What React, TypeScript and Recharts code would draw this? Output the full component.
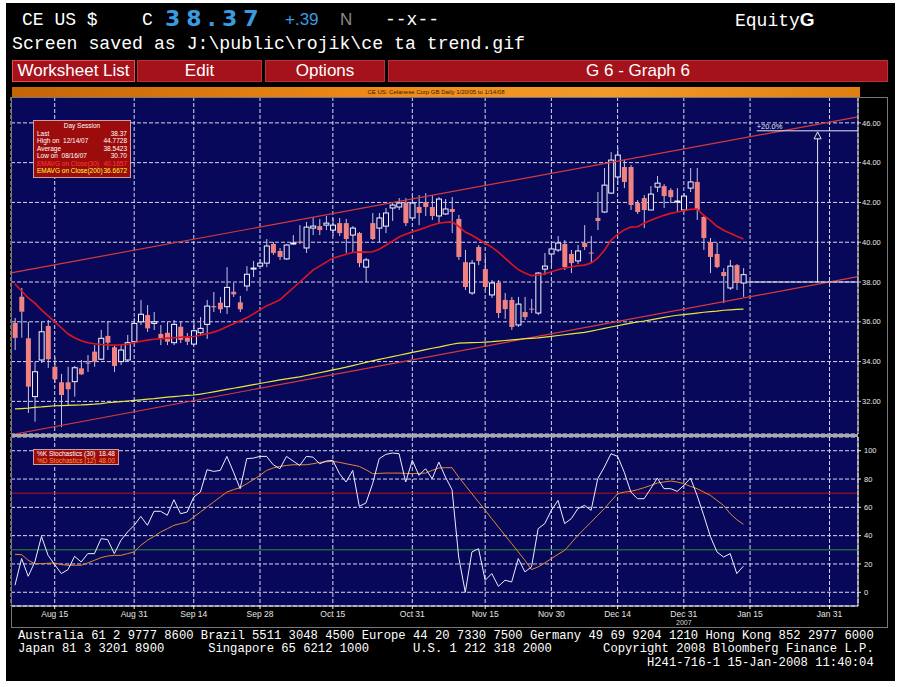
import React from "react";
import {
  Bar,
  CartesianGrid,
  ComposedChart,
  Line,
  ReferenceDot,
  ReferenceLine,
  XAxis,
  YAxis,
} from "recharts";

// 日足 OHLC (Aug 7 2007 .. Jan 14 2008)
const OPEN = [
  35.94, 37.26, 35.17, 32.24, 34.08, 35.79, 33.74, 32.96, 32.96, 32.99, 33.66, 33.95, 34.5, 34.12, 35.29, 34.72,
  34.0, 34.08, 35.0, 36.0, 36.34, 35.92, 35.39, 35.45, 34.95, 35.75, 35.2, 34.88, 35.45, 35.87, 36.79, 36.96,
  36.76, 37.51, 36.98, 37.8, 38.65, 38.8, 38.95, 39.91, 39.56, 39.16, 39.91, 40.03, 39.71, 40.71, 40.81, 40.86,
  40.61, 40.96, 40.96, 40.36, 40.46, 38.75, 40.96, 40.71, 40.81, 41.72, 41.77, 41.97, 41.22, 41.77, 42.02, 41.77,
  41.32, 41.42, 41.67, 41.17, 39.0, 37.45, 39.76, 38.65, 37.35, 37.95, 37.1, 37.1, 35.84, 36.49, 36.66, 36.44,
  38.65, 39.41, 39.61, 39.91, 39.41, 39.06, 39.96, 39.48, 41.22, 41.52, 42.47, 43.28, 43.78, 43.78, 41.97, 42.22,
  41.62, 42.77, 42.82, 42.62, 42.02, 41.62, 42.72, 43.03, 41.27, 40.01, 39.41, 38.5, 37.7, 38.85, 37.95,
];
const HIGH = [
  36.19, 37.7, 35.99, 33.99, 36.0, 36.09, 34.23, 33.38, 33.74, 33.78, 34.08, 34.33, 34.83, 35.59, 36.04, 34.83,
  34.83, 35.34, 36.19, 37.1, 36.84, 36.49, 35.84, 35.99, 36.09, 35.99, 35.44, 35.94, 36.24, 37.1, 37.5, 37.25,
  38.75, 37.95, 37.3, 38.8, 39.06, 39.16, 40.16, 40.01, 39.71, 39.91, 40.36, 40.86, 41.02, 41.27, 41.17, 41.32,
  41.22, 41.22, 41.17, 40.81, 40.51, 39.21, 41.47, 41.47, 41.72, 41.97, 42.22, 42.22, 42.32, 42.37, 42.47, 42.37,
  42.27, 42.17, 42.27, 41.37, 39.61, 39.11, 39.86, 39.26, 38.1, 38.1, 37.45, 37.25, 37.25, 37.25, 37.15, 38.5,
  39.46, 39.86, 40.31, 40.11, 39.61, 39.86, 40.86, 40.31, 42.52, 43.73, 44.53, 44.77, 44.13, 43.88, 42.12, 42.37,
  42.82, 43.33, 42.92, 42.72, 42.72, 42.47, 43.73, 43.73, 41.37, 40.21, 39.96, 38.7, 39.11, 38.9, 38.7,
];
const LOW = [
  34.58, 35.2, 31.42, 30.98, 33.93, 33.68, 32.93, 30.7, 31.78, 32.24, 33.33, 33.48, 33.74, 34.08, 34.58, 33.48,
  33.83, 33.98, 34.88, 35.84, 35.49, 35.59, 34.83, 34.83, 34.83, 34.93, 34.83, 34.83, 35.34, 35.14, 36.49, 36.44,
  36.39, 37.25, 36.49, 37.55, 38.25, 38.75, 38.75, 39.36, 39.11, 39.11, 39.86, 39.91, 39.46, 40.36, 40.36, 40.61,
  40.31, 40.31, 39.46, 39.51, 38.75, 38.0, 40.11, 40.01, 40.46, 41.07, 41.62, 40.81, 41.12, 40.86, 41.32, 41.12,
  40.96, 41.37, 40.46, 39.11, 37.6, 37.35, 38.85, 37.6, 37.2, 36.19, 36.14, 35.59, 35.74, 36.09, 36.44, 36.34,
  38.35, 38.85, 39.51, 38.6, 38.45, 38.9, 39.61, 38.95, 40.61, 41.47, 42.42, 42.87, 42.72, 41.62, 41.42, 40.71,
  41.62, 42.52, 41.72, 41.97, 41.52, 41.52, 42.52, 41.12, 39.61, 38.45, 38.7, 36.94, 37.6, 37.6, 37.25,
];
const CLOSE = [
  35.19, 36.51, 32.74, 33.49, 35.5, 34.12, 33.11, 32.32, 32.61, 33.69, 33.36, 33.9, 34.0, 35.17, 34.95, 33.78,
  34.58, 34.95, 35.92, 36.38, 35.67, 36.0, 35.17, 35.0, 35.87, 35.09, 35.0, 35.55, 35.67, 36.79, 36.73, 36.63,
  37.73, 37.38, 36.63, 38.39, 38.7, 38.95, 39.81, 39.46, 39.26, 39.86, 39.96, 40.0, 40.76, 40.81, 40.61, 40.96,
  40.86, 40.46, 40.16, 40.71, 38.95, 39.11, 40.16, 41.22, 41.47, 41.87, 41.97, 40.96, 41.97, 41.47, 41.77, 41.32,
  42.17, 41.67, 41.52, 39.26, 37.75, 38.95, 39.06, 37.75, 37.95, 36.44, 36.64, 35.74, 36.89, 36.24, 36.64, 38.45,
  38.8, 39.66, 39.96, 38.75, 38.95, 39.56, 39.76, 39.43, 41.07, 42.87, 44.13, 44.38, 43.03, 41.87, 41.52, 41.62,
  42.42, 42.97, 42.32, 42.27, 42.07, 42.32, 43.03, 41.62, 40.21, 39.26, 38.75, 38.3, 38.8, 37.95, 38.37,
];

// EMAVG on Close(30) と (200)
const EMA30 = [
  37.9, 37.55, 37.2, 36.94, 36.6, 36.3, 36.0, 35.7, 35.4, 35.2, 35.05, 34.95, 34.9, 34.86, 34.84, 34.83, 34.84,
  34.87, 34.95, 35.02, 35.08, 35.12, 35.15, 35.18, 35.2, 35.22, 35.24, 35.26, 35.32, 35.4, 35.48, 35.6, 35.75,
  35.9, 36.05, 36.2, 36.4, 36.6, 36.8, 36.95, 37.1, 37.4, 37.7, 38.0, 38.3, 38.6, 38.8, 39.0, 39.2, 39.3, 39.4,
  39.48, 39.51, 39.5, 39.52, 39.65, 39.85, 40.05, 40.26, 40.4, 40.52, 40.62, 40.74, 40.86, 40.95, 41.0, 41.02,
  40.8, 40.51, 40.35, 40.15, 39.95, 39.75, 39.5, 39.2, 38.9, 38.62, 38.45, 38.32, 38.35, 38.42, 38.52, 38.62,
  38.7, 38.76, 38.82, 38.85, 38.95, 39.2, 39.6, 40.1, 40.4, 40.62, 40.76, 40.78, 40.95, 41.1, 41.23, 41.35,
  41.45, 41.52, 41.58, 41.65, 41.67, 41.35, 41.1, 40.8, 40.6, 40.45, 40.3, 40.16,
];
const EMA200 = [
  31.62, 31.64, 31.66, 31.7, 31.72, 31.75, 31.78, 31.79, 31.8, 31.81, 31.82, 31.84, 31.86, 31.89, 31.93, 31.96,
  31.99, 32.02, 32.05, 32.08, 32.11, 32.14, 32.18, 32.21, 32.24, 32.27, 32.3, 32.32, 32.36, 32.42, 32.48, 32.54,
  32.6, 32.66, 32.72, 32.78, 32.84, 32.9, 32.96, 33.02, 33.08, 33.13, 33.18, 33.23, 33.3, 33.37, 33.44, 33.51,
  33.58, 33.65, 33.72, 33.8, 33.88, 33.96, 34.04, 34.11, 34.18, 34.25, 34.32, 34.39, 34.46, 34.53, 34.6, 34.67,
  34.73, 34.8, 34.87, 34.93, 34.94, 34.95, 34.96, 34.98, 35.0, 35.03, 35.06, 35.09, 35.12, 35.15, 35.17, 35.19,
  35.23, 35.27, 35.31, 35.35, 35.39, 35.43, 35.47, 35.53, 35.6, 35.67, 35.74, 35.8, 35.87, 35.93, 35.99, 36.04,
  36.1, 36.16, 36.22, 36.28, 36.33, 36.36, 36.4, 36.44, 36.48, 36.51, 36.54, 36.58, 36.6, 36.62, 36.64,
];

// %K Stochastics (30), %D Stochastics (12)
const STOCH_K = [
  5, 23.8, 11.3, 21.4, 39.5, 26.1, 19.5, 13.2, 16, 25.4, 21.4, 27.3, 27.3, 37.9, 37.2, 27.3, 36.7, 42.6, 47.3,
  53.6, 47.3, 57.2, 57.2, 54.4, 65.4, 55.5, 56.7, 67.3, 70.8, 86.6, 85.4, 86.1, 96, 84.9, 73.2, 94.4, 94.8, 96,
  96, 90.1, 87.3, 96, 92.7, 89.6, 96, 95.5, 90.8, 92.7, 93.2, 83.8, 77.9, 86.1, 60.7, 63.1, 76.7, 94.4, 97.4,
  98.4, 97.9, 77.9, 93.2, 82.6, 87.3, 80.2, 92, 81.4, 72.5, 24.9, 0, 28.5, 30.8, 8.5, 13.2, 4.2, 8.5, 7.3, 23.8,
  14.4, 17.9, 44.9, 48.5, 57.9, 64.9, 48.5, 52, 59.1, 61.4, 57.9, 80.2, 88.5, 97.9, 96, 84.9, 70.8, 66.1, 66.1,
  73.2, 80.7, 73.2, 73.2, 71.3, 75.5, 80.7, 68.5, 54.4, 39.5, 28.5, 24.9, 27.3, 13.2, 18.48,
];
const STOCH_D = [
  26.8, 26.6, 22.6, 20.2, 20.2, 20.5, 20.7, 19.5, 19.1, 19.1, 19.1, 20.7, 22.6, 24.5, 25.6, 26.1, 26.1, 27.3,
  28.5, 33.2, 36.7, 39.5, 42.6, 44.9, 47.3, 48.5, 49.6, 53.2, 56.7, 60.2, 63.8, 67.3, 70.8, 72.5, 73.9, 76.7,
  79.5, 82.6, 86.1, 87.8, 88.9, 89.6, 90.1, 90.1, 90.1, 90.8, 91.8, 92.2, 92.5, 91.8, 90.8, 89.9, 88.9, 86.6,
  83.8, 84, 84.2, 84.2, 84.2, 84, 83.8, 84, 84.2, 86.1, 87.8, 88, 88, 81.4, 75.5, 69.6, 63.8, 57.9, 52, 46.1,
  40.2, 34.4, 28.5, 22.6, 16, 17.9, 20.7, 23.8, 26.8, 29.6, 34.8, 40.2, 44.9, 49.6, 54.4, 59.1, 64.5, 69.6,
  70.8, 71.3, 72.5, 73.9, 75.5, 77.2, 77.9, 78.6, 77.9, 76.7, 74.8, 73.2, 70.8, 68.5, 64.9, 61.4, 55.5, 51.3, 48,
];

const FUTURE_DAYS = 17; // Jan 15 .. Feb 6 (空白)
const TICK_IDX = [6, 18, 27, 37, 48, 60, 71, 81, 91, 101, 111, 123];
const TICK_LABELS = ["Aug 15", "Aug 31", "Sep 14", "Sep 28", "Oct 15", "Oct 31", "Nov 15", "Nov 30", "Dec 14", "Dec 31", "Jan 15", "Jan 31"];
const PRICE_TICKS = [32, 34, 36, 38, 40, 42, 44, 46];
const STOCH_TICKS = [0, 20, 40, 60, 80, 100];

// トレンドライン (チャネル) と +20% ターゲット
const UPPER_CHANNEL = [{ i: -0.6, p: 38.46 }, { i: 127.3, p: 46.3 }];
const LOWER_CHANNEL = [{ i: 0, p: 30.36 }, { i: 127.3, p: 38.27 }];
const TARGET = { base: 38.0, top: 45.6, at: 121.2, from: 110.5, labelAt: 112 };

const SESSION_ROWS = [
  { k: "Last", v: "38.37", c: "#ffffff" },
  { k: "High on  12/14/07", v: "44.7728", c: "#ffffff" },
  { k: "Average", v: "38.5423", c: "#ffffff" },
  { k: "Low on  08/16/07", v: "30.70", c: "#ffffff" },
  { k: "EMAVG on Close(30)", v: "40.1657", c: "#ff3a3a" },
  { k: "EMAVG on Close(200)", v: "36.6672", c: "#ffff3c" },
];

const NAVY = "#08085a";
const PINK = "#f08282";
const GRID = "#d8d8ee";
const X_DOMAIN: [number, number] = [-0.6, 127.3];

const rows = Array.from({ length: OPEN.length + FUTURE_DAYS }, (_, i) =>
  i < OPEN.length
    ? {
        i,
        range: [LOW[i], HIGH[i]],
        o: OPEN[i],
        h: HIGH[i],
        l: LOW[i],
        c: CLOSE[i],
        ema30: EMA30[i],
        ema200: EMA200[i],
        k: STOCH_K[i],
        d: STOCH_D[i],
      }
    : { i, range: null, o: null, h: null, l: null, c: null, ema30: null, ema200: null, k: null, d: null }
);

function Candle(props: any) {
  const { x, y, width, height, payload } = props;
  if (!payload || payload.o == null) return null;
  const top = Math.min(y, y + height);
  const h = Math.abs(height);
  const k = h / (payload.h - payload.l || 1);
  const yo = top + (payload.h - payload.o) * k;
  const yc = top + (payload.h - payload.c) * k;
  const cx = x + width / 2;
  const up = payload.c >= payload.o;
  const bt = Math.min(yo, yc);
  const bh = Math.max(Math.abs(yo - yc), 1);
  return (
    <g>
      <line x1={cx} x2={cx} y1={top} y2={top + h} stroke="#c4c4e6" strokeWidth={1} />
      <rect x={x} y={bt} width={width} height={bh} fill={up ? NAVY : PINK} stroke={up ? "#f4f4ff" : "none"} strokeWidth={1} />
    </g>
  );
}

function DateTick(props: any) {
  const { x, y, payload } = props;
  const idx = TICK_IDX.indexOf(payload.value);
  return (
    <g>
      <text x={x} y={y + 6} textAnchor="middle" fontSize={8.5} fill="#e4e4e4" fontFamily="Liberation Sans">
        {TICK_LABELS[idx]}
      </text>
      {payload.value === 101 && (
        <text x={x} y={y + 14} textAnchor="middle" fontSize={7} fill="#d8d8d8" fontFamily="Liberation Sans">
          2007
        </text>
      )}
    </g>
  );
}

const axisTick = { fontSize: 7.5, fill: "#e8e8e8", fontFamily: "Liberation Sans" };

const mono = "'Liberation Mono', 'DejaVu Sans Mono', monospace";

function MenuBox({ left, width, label, border }: { left: number; width: number; label: string; border?: boolean }) {
  return (
    <div
      style={{
        position: "absolute",
        left,
        top: 60,
        width,
        height: 22,
        boxSizing: "border-box",
        background: "#a5121c",
        border: border ? "1px solid #ee4a4a" : "1px solid #b8323a",
        color: "#ffffff",
        fontFamily: "'Liberation Sans', Arial, sans-serif",
        fontSize: 17,
        lineHeight: "20px",
        textAlign: "center",
        whiteSpace: "nowrap",
      }}
    >
      {label}
    </div>
  );
}

export default function App() {
  return (
    <div style={{ position: "fixed", left: 0, top: 0, width: 901, height: 687, background: "#ffffff", overflow: "hidden" }}>
      <div style={{ position: "absolute", left: 6, top: 3, width: 889, height: 678, background: "#000000" }} />

      {/* ヘッダー */}
      <div style={{ position: "absolute", left: 22, top: 10, fontFamily: mono, fontSize: 18, color: "#fff", lineHeight: "20px", whiteSpace: "pre" }}>
        CE US $
      </div>
      <div style={{ position: "absolute", left: 142, top: 10, fontFamily: mono, fontSize: 18, color: "#fff", lineHeight: "20px" }}>C</div>
      <div
        style={{
          position: "absolute",
          left: 165,
          top: 7,
          fontFamily: "'DejaVu Sans', sans-serif",
          fontWeight: "bold",
          fontSize: 22,
          letterSpacing: 6,
          color: "#3b9be0",
          lineHeight: "24px",
        }}
      >
        38.37
      </div>
      <div style={{ position: "absolute", left: 285, top: 10, fontFamily: "'Liberation Sans', sans-serif", fontSize: 17, color: "#3b9be0", lineHeight: "20px" }}>
        +.39
      </div>
      <div style={{ position: "absolute", left: 340, top: 10, fontFamily: "'Liberation Sans', sans-serif", fontSize: 17, color: "#8a8a8a", lineHeight: "20px" }}>
        N
      </div>
      <div style={{ position: "absolute", left: 385, top: 10, fontFamily: mono, fontSize: 18, color: "#fff", lineHeight: "20px" }}>--x--</div>
      <div style={{ position: "absolute", left: 735, top: 10, fontFamily: mono, fontSize: 18, color: "#fff", lineHeight: "20px" }}>
        Equity<span style={{ fontFamily: "'Liberation Sans', sans-serif", fontWeight: "bold", fontSize: 19 }}>G</span>
      </div>
      <div style={{ position: "absolute", left: 12, top: 34, fontFamily: mono, fontSize: 18.2, color: "#fff", lineHeight: "20px", whiteSpace: "pre" }}>
        {"Screen saved as J:\\public\\rojik\\ce ta trend.gif"}
      </div>

      <MenuBox left={12} width={123} label="Worksheet List" border />
      <MenuBox left={137} width={125} label="Edit" />
      <MenuBox left={265} width={120} label="Options" />
      <MenuBox left={388} width={500} label="G 6 - Graph 6" />

      {/* タイトルバー */}
      <div
        style={{
          position: "absolute",
          left: 12,
          top: 87,
          width: 848,
          height: 10,
          background: "linear-gradient(90deg, #c46406 0%, #f08c18 45%, #f29a2a 70%, #e07e12 100%)",
          color: "#3a1800",
          fontFamily: "'Liberation Sans', sans-serif",
          fontSize: 6,
          lineHeight: "10px",
          textAlign: "center",
        }}
      >
        CE US: Celanese Corp GB Daily 1/20/05 to 1/14/08
      </div>

      {/* プロット背景 */}
      <div style={{ position: "absolute", left: 11, top: 97, width: 847, height: 509, background: NAVY }} />

      {/* 価格チャート */}
      <div style={{ position: "absolute", left: 0, top: 97 }}>
        <ComposedChart width={901} height={337} data={rows} margin={{ top: 0, right: 0, bottom: 0, left: 11 }}>
          <CartesianGrid stroke={GRID} strokeDasharray="4 2" strokeWidth={1} />
          <XAxis type="number" dataKey="i" domain={X_DOMAIN} allowDataOverflow ticks={TICK_IDX} interval={0} hide />
          <YAxis
            orientation="right"
            width={43}
            domain={[30.36, 47.3]}
            allowDataOverflow
            ticks={PRICE_TICKS}
            interval={0}
            tick={axisTick}
            tickFormatter={(v: number) => v.toFixed(2)}
            tickSize={3}
            tickMargin={1}
            stroke="#d0d0d0"
          />
          <ReferenceLine
            segment={UPPER_CHANNEL.map((q) => ({ x: q.i, y: q.p }))}
            stroke="#d63a3a"
            strokeWidth={1.2}
            ifOverflow="visible"
          />
          <ReferenceLine
            segment={LOWER_CHANNEL.map((q) => ({ x: q.i, y: q.p }))}
            stroke="#d63a3a"
            strokeWidth={1.2}
            ifOverflow="visible"
          />
          <Bar dataKey="range" barSize={5} shape={<Candle />} isAnimationActive={false} />
          <Line dataKey="ema200" stroke="#e8e83c" strokeWidth={1.2} dot={false} isAnimationActive={false} />
          <Line dataKey="ema30" stroke="#e0141e" strokeWidth={1.6} dot={false} isAnimationActive={false} />
          <ReferenceLine
            segment={[{ x: TARGET.from, y: TARGET.base }, { x: X_DOMAIN[1], y: TARGET.base }]}
            stroke="#e6e6f0"
            strokeWidth={1}
            ifOverflow="visible"
          />
          <ReferenceLine
            segment={[{ x: TARGET.labelAt, y: TARGET.top }, { x: X_DOMAIN[1], y: TARGET.top }]}
            stroke="#e6e6f0"
            strokeWidth={1}
            ifOverflow="visible"
          />
          <ReferenceLine
            segment={[{ x: TARGET.at, y: TARGET.base }, { x: TARGET.at, y: TARGET.top - 0.35 }]}
            stroke="#e6e6f0"
            strokeWidth={1}
            ifOverflow="visible"
          />
          <ReferenceDot
            x={TARGET.at}
            y={TARGET.top - 0.05}
            ifOverflow="visible"
            shape={(p: any) => (
              <polygon
                points={`${p.cx},${p.cy} ${p.cx - 3.5},${p.cy + 7} ${p.cx + 3.5},${p.cy + 7}`}
                fill={NAVY}
                stroke="#e6e6f0"
                strokeWidth={1}
              />
            )}
          />
          <ReferenceDot
            x={TARGET.labelAt}
            y={TARGET.top}
            ifOverflow="visible"
            shape={(p: any) => (
              <text x={p.cx} y={p.cy - 2} fontSize={7.5} fill="#e6e6f0" fontFamily="Liberation Sans">
                +20.0%
              </text>
            )}
          />
        </ComposedChart>
      </div>

      {/* ストキャスティクス */}
      <div style={{ position: "absolute", left: 0, top: 437 }}>
        <ComposedChart width={901} height={191} data={rows} margin={{ top: 0, right: 0, bottom: 0, left: 11 }}>
          <CartesianGrid stroke={GRID} strokeDasharray="4 2" strokeWidth={1} />
          <XAxis
            type="number"
            dataKey="i"
            domain={X_DOMAIN}
            allowDataOverflow
            ticks={TICK_IDX}
            interval={0}
            height={22}
            tick={<DateTick />}
            tickSize={3}
            stroke="#f0f0f0"
          />
          <YAxis
            orientation="right"
            width={43}
            domain={[-9.7, 109.7]}
            allowDataOverflow
            ticks={STOCH_TICKS}
            interval={0}
            tick={axisTick}
            tickSize={3}
            tickMargin={3}
            stroke="#f0f0f0"
          />
          <ReferenceLine y={70} stroke="#c01010" strokeWidth={1} />
          <ReferenceLine y={30} stroke="#2f8f2f" strokeWidth={1} />
          <Line dataKey="d" stroke="#e08834" strokeWidth={1} dot={false} isAnimationActive={false} />
          <Line dataKey="k" stroke="#ececff" strokeWidth={1} dot={false} isAnimationActive={false} />
        </ComposedChart>
      </div>

      {/* パネル区切り */}
      <div style={{ position: "absolute", left: 11, top: 434, width: 847, height: 3, background: "#a8a8a8" }} />
      <div style={{ position: "absolute", left: 11, top: 97, width: 877, height: 531, border: "1px solid #777", boxSizing: "border-box" }} />

      {/* Day Session 凡例 */}
      <div
        style={{
          position: "absolute",
          left: 33,
          top: 120,
          width: 98,
          height: 58,
          boxSizing: "border-box",
          background: "#9c0c0c",
          border: "1px solid #c8a0a0",
          fontFamily: "'Liberation Sans', sans-serif",
          fontSize: 6.5,
          lineHeight: "7.5px",
          color: "#fff",
          padding: "1px 3px 0 3px",
        }}
      >
        <div style={{ textAlign: "center" }}>Day Session</div>
        {SESSION_ROWS.map((r) => (
          <div key={r.k} style={{ display: "flex", justifyContent: "space-between", color: r.c, whiteSpace: "pre" }}>
            <span>{r.k}</span>
            <span>{r.v}</span>
          </div>
        ))}
      </div>

      {/* Stochastics 凡例 */}
      <div
        style={{
          position: "absolute",
          left: 33,
          top: 449,
          width: 86,
          height: 16,
          boxSizing: "border-box",
          background: "#9c0c0c",
          border: "1px solid #c8a0a0",
          fontFamily: "'Liberation Sans', sans-serif",
          fontSize: 6.5,
          lineHeight: "7px",
          padding: "0 3px",
        }}
      >
        <div style={{ display: "flex", justifyContent: "space-between", color: "#fff" }}>
          <span>%K Stochastics (30)</span>
          <span>18.48</span>
        </div>
        <div style={{ display: "flex", justifyContent: "space-between", color: "#ff9a3c" }}>
          <span>%D Stochastics (12)</span>
          <span>48.00</span>
        </div>
      </div>

      {/* フッター */}
      <div
        style={{
          position: "absolute",
          left: 18,
          top: 630,
          fontFamily: mono,
          fontSize: 12.2,
          lineHeight: "13.3px",
          color: "#fff",
          whiteSpace: "pre",
        }}
      >
        {"Australia 61 2 9777 8600 Brazil 5511 3048 4500 Europe 44 20 7330 7500 Germany 49 69 9204 1210 Hong Kong 852 2977 6000\n"}
        {"Japan 81 3 3201 8900      Singapore 65 6212 1000      U.S. 1 212 318 2000       Copyright 2008 Bloomberg Finance L.P.\n"}
        {"                                                                                      H241-716-1 15-Jan-2008 11:40:04"}
      </div>
    </div>
  );
}
